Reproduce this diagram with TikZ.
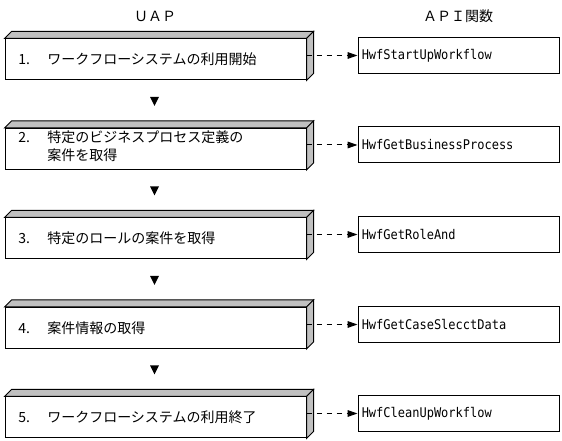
\documentclass[tikz,border=0pt]{standalone}
\usepackage{fontspec}
\setmainfont{Noto Sans CJK JP}
\newfontfamily\apifont[FakeStretch=0.9]{DejaVu Sans Mono}
\usetikzlibrary{arrows.meta}
\definecolor{facegray}{RGB}{192,192,192}
\tikzset{
  stepfront/.style={draw=black, fill=white, line width=0.75pt, minimum width=225.75pt, minimum height=30.75pt, inner sep=0pt},
  face/.style={draw=black, fill=facegray, line width=0.75pt, line join=miter},
  apibox/.style={draw=black, fill=white, line width=0.75pt, minimum width=150.75pt, minimum height=27pt, inner sep=0pt},
  apitext/.style={anchor=west, inner sep=0pt, font=\apifont\fontsize{10}{12}\selectfont},
  steptext/.style={anchor=west, inner sep=0pt, align=left, font=\fontsize{10.5}{13.5}\selectfont},
  header/.style={inner sep=0pt, font=\fontsize{10.5}{13.5}\selectfont},
  dasharrow/.style={line width=0.75pt, dash pattern=on 4pt off 3.5pt, -{Triangle[length=7.5pt,width=5pt]}},
  downtri/.style={fill=black}
}
\newcommand{\numlbl}[1]{\makebox[21.75pt][l]{#1}}
\begin{document}
\begin{tikzpicture}[x=0.75pt,y=-0.75pt]
\useasboundingbox (0,0) rectangle (562,441);

\node[header] (huap) at (155,16.5) {ＵＡＰ};
\node[header] (hapi) at (458,16.5) {ＡＰＩ関数};

% step boxes
\foreach \i/\yc in {1/59.5,2/149,3/238.5,4/328,5/417.5}{
  \node[stepfront] (b\i) at (155.5,\yc) {};
  \draw[face] (b\i.north west) -- ++(7,-7) -- ([shift={(7,-7)}]b\i.north east) -- (b\i.north east) -- cycle;
  \draw[face] (b\i.north east) -- ++(7,-7) -- ([shift={(7,-7)}]b\i.south east) -- (b\i.south east) -- cycle;
}

% api boxes
\node[apibox] (a1) at (458.5,55.5) {};
\node[apibox] (a2) at (458.5,145) {};
\node[apibox] (a3) at (458.5,234.5) {};
\node[apibox] (a4) at (458.5,324.5) {};
\node[apibox] (a5) at (458.5,413.5) {};

\node[apitext] (at1) at ([xshift=3pt]a1.west) {HwfStartUpWorkflow};
\node[apitext] (at2) at ([xshift=3pt]a2.west) {HwfGetBusinessProcess};
\node[apitext] (at3) at ([xshift=3pt]a3.west) {HwfGetRoleAnd};
\node[apitext] (at4) at ([xshift=3pt]a4.west) {HwfGetCaseSlecctData};
\node[apitext] (at5) at ([xshift=3pt]a5.west) {HwfCleanUpWorkflow};

% step texts
\node[steptext] (t1) at (18,59.5) {\numlbl{1.}ワークフローシステムの利用開始};
\node[steptext] (t2a) at (18,137.5) {\numlbl{2.}特定のビジネスプロセス定義の};
\node[steptext] (t2b) at (47,155.5) {案件を取得};
\node[steptext] (t3) at (18,238.5) {\numlbl{3.}特定のロールの案件を取得};
\node[steptext] (t4) at (18,328) {\numlbl{4.}案件情報の取得};
\node[steptext] (t5) at (18,417.5) {\numlbl{5.}ワークフローシステムの利用終了};

% dashed arrows
\foreach \i in {1,...,5}{
  \draw[dasharrow] (b\i.east |- a\i.west) -- (a\i.west);
}

% down triangles
\foreach \yt in {97,186.5,276,365.5}{
  \fill[downtri] (150,\yt) -- (159,\yt) -- (154.5,\yt+9) -- cycle;
}
\end{tikzpicture}
\end{document}
